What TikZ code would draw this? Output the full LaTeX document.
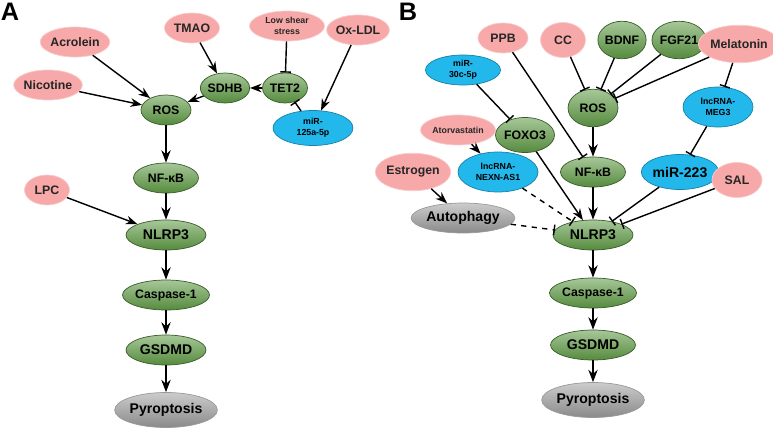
\documentclass[tikz,border=0pt]{standalone}
\usepackage{fontspec}
\setmainfont{Liberation Sans}
\usetikzlibrary{shapes.geometric,arrows.meta}
\definecolor{pinkc}{HTML}{F7A8A8}
\definecolor{greenc}{HTML}{5F9A45}
\definecolor{bluec}{HTML}{22B8EC}
\definecolor{grayc}{HTML}{999999}
\tikzset{%
  font=\bfseries\scriptsize,>=Stealth,
  nd/.style={ellipse,inner sep=0pt,minimum height=0.6cm,align=center},
  pk/.style={nd,fill=pinkc,draw=pinkc!60,text=black!85},
  gn/.style={nd,top color=greenc!55,bottom color=greenc!90!black,draw=greenc!60!black,text=black},
  bl/.style={nd,fill=bluec,draw=bluec!70!black,font=\bfseries\tiny},
  gy/.style={nd,top color=grayc!50,bottom color=grayc!90!black,draw=grayc,font=\bfseries\footnotesize},
  ar/.style={->,thick},
  inh/.style={-{Bar[width=6pt]},thick},
  fat/.style={-{Stealth[length=7pt]},line width=1.6pt}
}
\begin{document}
\begin{tikzpicture}[x=0.02cm,y=-0.02cm]
\useasboundingbox (0,0) rectangle (773,435);
% panel A
\node[font=\bfseries\Large] (la) at (10,12) {A};
\node[pk,minimum width=1.3cm] (acro) at (75,42) {Acrolein};
\node[pk,minimum width=1.1cm] (tmao) at (192,28) {TMAO};
\node[pk,font=\bfseries\tiny,minimum width=1.5cm,align=center] (shear) at (287,26) {Low shear\\stress};
\node[pk,minimum width=1.2cm] (oxldl) at (358,30) {Ox-LDL};
\node[pk,minimum width=1.3cm] (nico) at (48,85) {Nicotine};
\node[gn,minimum width=0.9cm] (sdhb) at (225,88) {SDHB};
\node[gn,minimum width=0.9cm] (tet) at (285,88) {TET2};
\node[gn,minimum width=1.0cm] (rosa) at (166,110) {ROS};
\node[bl,minimum width=1.6cm,minimum height=0.7cm] (mir125) at (313,128) {miR-\\125a-5p};
\node[gn,minimum width=1.3cm] (nfa) at (166,178) {NF-κB};
\node[pk,minimum width=0.9cm] (lpc) at (47,190) {LPC};
\node[gn,font=\bfseries\footnotesize,minimum width=1.6cm] (nlra) at (166,235) {NLRP3};
\node[gn,minimum width=1.7cm] (casa) at (166,295) {Caspase-1};
\node[gn,font=\bfseries\footnotesize,minimum width=1.6cm] (gsda) at (166,350) {GSDMD};
\node[gy,minimum width=1.7cm,minimum height=0.7cm] (pyra) at (166,410) {Pyroptosis};
\draw[ar] (acro) -- (rosa);
\draw[ar] (nico) -- (rosa);
\draw[ar] (tmao) -- (sdhb);
\draw[inh] (shear) -- (tet);
\draw[ar] (oxldl) -- (mir125);
\draw[inh] (mir125) -- (tet);
\draw[ar] (tet) -- (sdhb);
\draw[ar] (sdhb) -- (rosa);
\draw[ar] (lpc) -- (nlra);
\draw[fat] (rosa) -- (nfa);
\draw[fat] (nfa) -- (nlra);
\draw[fat] (nlra) -- (casa);
\draw[fat] (casa) -- (gsda);
\draw[fat] (gsda) -- (pyra);
% panel B
\node[font=\bfseries\Large] (lb) at (408,12) {B};
\node[pk,minimum width=1.0cm] (ppb) at (503,38) {PPB};
\node[pk,minimum width=0.9cm,minimum height=0.7cm] (cc) at (563,40) {CC};
\node[gn,minimum width=0.95cm,minimum height=0.75cm] (bdnf) at (622,40) {BDNF};
\node[gn,minimum width=0.95cm,minimum height=0.75cm] (fgf) at (679,40) {FGF21};
\node[pk,minimum width=1.35cm,minimum height=0.75cm] (mela) at (739,44) {Melatonin};
\node[bl,minimum width=1.5cm,minimum height=0.6cm] (mir30) at (463,70) {miR-\\30c-5p};
\node[gn,minimum width=1.0cm,minimum height=0.75cm] (rosb) at (593,108) {ROS};
\node[bl,minimum width=1.4cm,minimum height=0.8cm] (meg) at (718,107) {lncRNA-\\MEG3};
\node[pk,font=\bfseries\tiny,minimum width=1.5cm] (ator) at (458,130) {Atorvastatin};
\node[gn,minimum width=1.0cm,minimum height=0.7cm] (foxo) at (525,135) {FOXO3};
\node[gn,minimum width=1.3cm] (nfb) at (593,172) {NF-κB};
\node[pk,minimum width=1.3cm,minimum height=0.75cm] (estr) at (413,172) {Estrogen};
\node[bl,minimum width=1.6cm,minimum height=0.8cm] (nexn) at (498,172) {lncRNA-\\NEXN-AS1};
\node[bl,font=\bfseries\footnotesize,minimum width=1.4cm,minimum height=0.7cm] (mir223) at (680,172) {miR-223};
\node[pk,minimum width=1.0cm,minimum height=0.7cm] (sal) at (737,180) {SAL};
\node[gy,minimum width=1.8cm] (auto) at (463,218) {Autophagy};
\node[gn,font=\bfseries\footnotesize,minimum width=1.6cm] (nlrb) at (593,235) {NLRP3};
\node[gn,minimum width=1.7cm] (casb) at (593,293) {Caspase-1};
\node[gn,font=\bfseries\footnotesize,minimum width=1.7cm] (gsdb) at (593,345) {GSDMD};
\node[gy,minimum width=1.9cm,minimum height=0.7cm] (pyrb) at (593,400) {Pyroptosis};
\draw[inh] (ppb) -- (nfb);
\draw[inh] (cc) -- (rosb);
\draw[inh] (bdnf) -- (rosb);
\draw[inh] (fgf) -- (rosb);
\draw[inh] (mela) -- (rosb);
\draw[inh] (mela) -- (meg);
\draw[inh] (meg) -- (mir223);
\draw[inh] (mir223) -- (nlrb);
\draw[inh] (sal) -- (nlrb);
\draw[inh] (mir30) -- (foxo);
\draw[ar] (foxo) -- (nlrb);
\draw[ar] (ator) -- (nexn);
\draw[inh,dashed] (nexn) -- (nlrb);
\draw[ar] (estr) -- (auto);
\draw[inh,dashed] (auto) -- (nlrb);
\draw[fat] (rosb) -- (nfb);
\draw[fat] (nfb) -- (nlrb);
\draw[fat] (nlrb) -- (casb);
\draw[fat] (casb) -- (gsdb);
\draw[fat] (gsdb) -- (pyrb);
\end{tikzpicture}
\end{document}
